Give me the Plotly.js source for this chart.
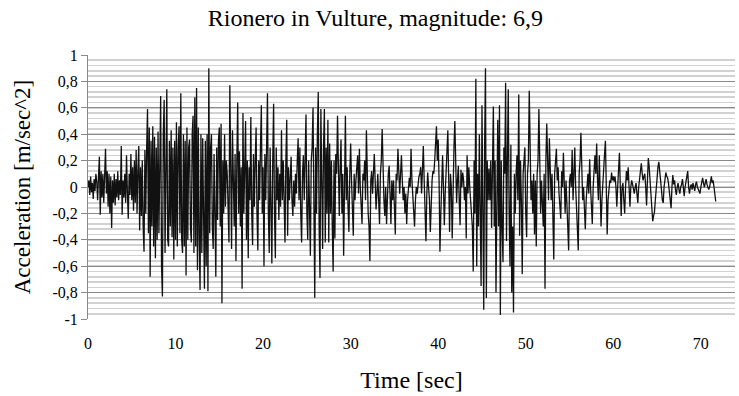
<!DOCTYPE html>
<html>
<head>
<meta charset="utf-8">
<script src="https://cdn.plot.ly/plotly-3.0.1.min.js"></script>
<style>html,body{margin:0;padding:0;background:#fff;}#chart{width:739px;height:396px;}</style>
</head>
<body>
<div id="chart"></div>
<script>
// Sampling step of the record (seconds)
const dt = 0.1;
// Acceleration [m/sec^2], one row per second
const acceleration = [
  0, 0.05, -0.06, 0.08, -0.04, 0.03, -0.09, 0.06, -0.03, 0.1,
  0.04, -0.1, 0.08, 0.23, -0.21, 0.12, -0.08, 0.1, -0.12, 0.15,
  0.29, -0.05, 0.12, -0.15, 0.1, -0.2, 0.08, -0.31, 0.05, -0.12,
  0.1, -0.14, 0.06, -0.08, 0.12, -0.1, 0.05, -0.06, 0.31, -0.21,
  0.05, -0.08, 0.1, -0.12, 0.24, -0.05, -0.24, 0.1, -0.06, 0.25,
  -0.1, 0.15, -0.18, 0.2, -0.12, 0.28, -0.2, 0.12, 0.31, -0.33,
  0.15, -0.22, 0.2, -0.3, -0.49, 0.28, -0.2, 0.3, 0.59, -0.35,
  0.45, -0.68, 0.35, -0.3, 0.46, -0.45, 0.38, -0.54, 0.3, -0.4,
  0.42, -0.35, 0.5, 0.69, -0.6, -0.83, 0.4, 0.66, -0.5, 0.45,
  0.74, -0.4, -0.45, 0.35, -0.3, 0.43, -0.38, 0.3, -0.55, 0.35,
  -0.4, 0.49, -0.45, 0.3, 0.46, -0.35, 0.71, -0.4, -0.5, 0.4,
  -0.45, 0.35, -0.67, 0.45, -0.4, 0.3, 0.36, -0.3, -0.42, 0.4,
  0.54, -0.5, 0.68, -0.45, 0.75, -0.63, 0.45, -0.4, -0.78, 0.4,
  -0.5, 0.37, -0.45, -0.77, 0.35, -0.6, 0.4, -0.79, 0.9, -0.35,
  0.3, 0.4, -0.3, -0.47, 0.25, -0.4, -0.68, 0.3, -0.25, 0.35,
  0.45, -0.3, 0.48, -0.88, 0.2, -0.2, 0.4, -0.15, 0.2, 0.1,
  -0.26, -0.42, 0.77, 0.1, -0.47, 0.43, 0.1, -0.3, 0.25, -0.56,
  0.2, 0.64, -0.2, 0.27, -0.3, 0.15, -0.77, 0.56, -0.2, 0.3,
  0.5, -0.4, 0.2, -0.54, 0.15, -0.1, 0.53, -0.2, -0.44, 0.25,
  -0.15, 0.2, 0.45, -0.2, -0.48, 0.2, -0.1, 0.3, 0.62, -0.2,
  0.15, -0.6, 0.25, -0.1, 0.2, 0.71, -0.2, -0.5, 0.3, -0.2,
  -0.58, 0.2, 0.63, -0.2, -0.54, 0.3, -0.1, 0.15, -0.25, 0.1,
  -0.15, 0.43, -0.1, 0.2, -0.2, -0.42, 0.2, 0.51, -0.37, 0.15,
  -0.1, 0.1, 0.23, -0.1, -0.22, 0.05, -0.15, 0.1, -0.05, 0.2,
  0.37, -0.1, 0.3, -0.2, -0.42, 0.1, 0.24, -0.1, 0.15, 0.55,
  -0.2, -0.4, 0.2, -0.2, -0.52, 0.2, 0.3, 0.6, -0.3, -0.84,
  0.3, -0.2, 0.4, 0.72, -0.3, -0.69, 0.59, -0.2, -0.47, 0.3,
  0.59, -0.42, 0.3, -0.2, 0.51, -0.42, 0.33, -0.2, 0.2, -0.3,
  -0.64, 0.2, -0.39, 0.25, 0.1, 0.54, -0.1, -0.22, 0.15, 0.36,
  -0.2, 0.1, -0.52, 0.2, 0.54, -0.1, 0.15, -0.15, -0.34, 0.1,
  0.33, 0.05, -0.2, -0.37, 0.1, -0.1, 0.05, 0.15, 0.24, -0.05,
  0.29, 0, -0.15, -0.28, 0.1, 0.05, 0.2, -0.1, 0.43, 0.05,
  -0.2, -0.3, -0.56, 0.05, 0.12, -0.05, 0.1, 0.25, 0.05, -0.17,
  -0.05, 0.1, -0.1, -0.28, 0.1, 0.2, 0.44, 0.1, -0.1, -0.22,
  0, -0.28, 0.05, 0.1, 0.16, -0.05, -0.28, 0.05, -0.1, 0.05,
  -0.15, -0.36, 0.1, 0.05, 0.29, 0.1, -0.05, 0.1, 0.24, 0.05,
  -0.1, 0, -0.2, -0.05, -0.28, -0.1, 0, 0.07, 0, 0.29,
  0.05, -0.1, -0.15, -0.3, -0.1, 0, -0.05, 0.03, 0.08, 0.1,
  0.15, -0.05, 0.2, 0.31, 0.05, -0.2, -0.41, -0.05, 0.11, 0,
  -0.1, -0.34, -0.05, 0.05, 0.12, 0.1, 0.2, 0.3, 0.46, 0.2,
  0.36, 0.05, -0.49, -0.2, 0.05, 0.24, 0, -0.29, -0.05, 0.1,
  0.2, 0.43, 0.05, -0.34, 0.1, 0, -0.39, 0.1, 0.3, 0.5,
  0.1, -0.12, 0.05, 0.16, -0.1, -0.29, 0.13, 0, 0.11, 0.05,
  -0.1, 0, -0.39, 0.24, -0.05, 0.15, 0, -0.1, -0.2, -0.3,
  -0.64, 0.2, -0.2, 0.82, -0.6, 0.1, -0.3, 0.4, -0.2, -0.75,
  0.62, -0.3, -0.93, 0.3, 0.9, -0.84, 0.2, -0.1, 0.14, -0.1,
  0.2, -0.31, 0.3, 0.61, -0.3, 0.2, -0.8, 0.3, 0.51, -0.3,
  0.62, -0.97, 0.2, -0.3, -0.57, 0.3, 0.1, 0.79, -0.41, 0.2,
  0.74, -0.2, -0.6, 0.32, -0.8, -0.3, -0.95, 0.1, -0.2, 0.1,
  0.24, -0.1, 0.7, -0.37, 0.2, -0.1, -0.66, 0.1, 0.2, 0.3,
  -0.2, -0.38, 0.1, 0.2, 0.73, 0.1, -0.1, 0.05, -0.2, 0.1,
  -0.36, 0.05, -0.45, 0.1, 0.2, 0.59, 0.1, -0.2, 0.05, -0.1,
  -0.3, 0.1, -0.77, 0.2, 0.48, 0.2, -0.1, 0.37, 0.1, -0.1,
  0.1, -0.2, -0.55, 0.1, 0.2, 0.29, 0.05, 0.15, -0.05, -0.12,
  -0.24, 0.12, 0, 0.26, -0.05, -0.2, 0.05, -0.1, -0.3, -0.48,
  0.05, 0.1, 0, 0.28, -0.1, 0.1, 0.3, 0, -0.2, -0.3,
  -0.48, 0.1, 0.2, 0.41, 0.05, -0.1, 0, -0.2, -0.32, -0.1,
  0.05, 0.1, -0.05, 0.21, 0, -0.15, -0.28, 0, 0.1, 0.24,
  0.1, 0.33, 0.05, -0.1, 0.24, 0, -0.3, -0.1, 0.05, 0.15,
  0.25, 0.35, -0.1, -0.36, -0.1, 0, 0.05, 0.03, 0.11, 0.05,
  0.08, 0.04, 0.08, 0, -0.15, 0, 0.15, 0.26, 0, -0.22,
  0, 0.03, -0.1, -0.2, 0, 0.12, 0.05, 0.15, 0, -0.15,
  0, 0.05, 0.02, -0.02, -0.05, 0, 0.03, -0.05, -0.12, 0,
  0.05, 0.12, 0.18, 0.1, 0.05, 0.08, 0.1, 0, -0.14, 0.05,
  0.22, 0.15, 0.05, -0.05, -0.1, -0.26, -0.22, -0.19, -0.1, 0,
  0.1, 0.15, 0.19, 0.1, 0, -0.02, -0.1, -0.12, 0, 0.05,
  0.11, 0.08, 0.07, 0.03, -0.05, -0.1, -0.16, 0, 0.09, 0.02,
  0.05, -0.02, -0.06, 0, 0.03, -0.02, -0.05, 0, 0.02, 0.06,
  0, -0.07, 0, 0.05, 0.08, 0.12, 0, -0.05, 0, 0.02,
  -0.02, 0.03, 0, -0.03, 0.02, 0.04, 0, -0.02, -0.04, -0.05,
  0, 0.04, 0.07, 0.03, 0, 0.03, 0.06, 0.02, 0, -0.02,
  0, 0.04, 0.08, 0.03, 0.05, 0, -0.05, -0.11
];
const time = acceleration.map((_, i) => +(i * dt).toFixed(2));

const xTickVals = [0, 10, 20, 30, 40, 50, 60, 70];
const yTickVals = [1, 0.8, 0.6, 0.4, 0.2, 0, -0.2, -0.4, -0.6, -0.8, -1];
const yTickText = ['1', '0,8', '0,6', '0,4', '0,2', '0', '-0,2', '-0,4', '-0,6', '-0,8', '-1'];

const serif = '"Liberation Serif", "Times New Roman", serif';

const trace = {
  x: time,
  y: acceleration,
  type: 'scatter',
  mode: 'lines',
  line: {color: '#111', width: 1.3},
  hoverinfo: 'skip'
};

const layout = {
  width: 739,
  height: 396,
  margin: {l: 88, r: 4, t: 55, b: 77},
  paper_bgcolor: '#fff',
  plot_bgcolor: '#fff',
  showlegend: false,
  separators: ',.',
  font: {family: serif, color: '#000', size: 16},
  title: {
    text: 'Rionero in Vulture, magnitude: 6,9',
    font: {family: serif, size: 24, color: '#000'},
    x: 0.508, xanchor: 'center',
    y: 0.955, yanchor: 'middle'
  },
  xaxis: {
    range: [0, 73.9],
    tickvals: xTickVals,
    ticktext: xTickVals.map(String),
    showgrid: false,
    zeroline: false,
    showline: false,
    ticks: 'outside',
    ticklen: 10,
    tickcolor: 'rgba(0,0,0,0)',
    tickfont: {family: serif, size: 16, color: '#000'},
    title: {text: 'Time [sec]', font: {family: serif, size: 24, color: '#000'}, standoff: 19}
  },
  yaxis: {
    range: [-1, 1],
    tickvals: yTickVals,
    ticktext: yTickText,
    showgrid: true,
    gridcolor: '#8a8a8a',
    gridwidth: 1,
    minor: {dtick: 0.04, tick0: 0, showgrid: true, gridcolor: '#d2d2d2', gridwidth: 1.6, ticks: ''},
    zeroline: false,
    showline: true,
    linecolor: '#8a8a8a',
    linewidth: 1,
    ticks: 'outside',
    ticklen: 6,
    tickcolor: '#8a8a8a',
    tickfont: {family: serif, size: 16, color: '#000'},
    title: {text: 'Acceleration [m/sec^2]', font: {family: serif, size: 23, color: '#000'}, standoff: 15}
  }
};

Plotly.newPlot('chart', [trace], layout, {staticPlot: true, displayModeBar: false});
</script>
</body>
</html>
